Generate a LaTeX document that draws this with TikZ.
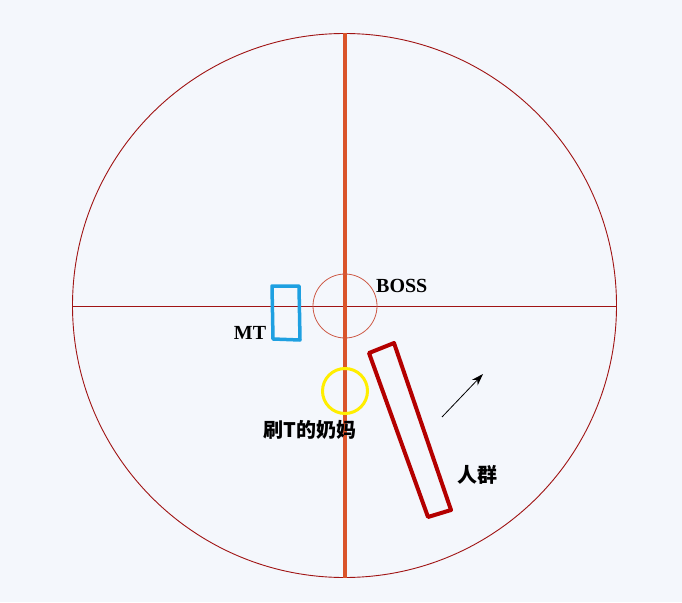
\documentclass[tikz,border=0pt]{standalone}
\usepackage{fontspec}
\setmainfont{Liberation Serif}
\newfontfamily\cjk{Noto Sans CJK SC}
\usepackage{tikz}
\usetikzlibrary{arrows.meta}
\definecolor{bgcol}{RGB}{244,247,252}
\definecolor{axisred}{RGB}{160,20,20}
\definecolor{poleorange}{RGB}{218,84,42}
\definecolor{bossring}{RGB}{205,90,70}
\definecolor{tankblue}{RGB}{30,160,225}
\definecolor{healyellow}{RGB}{255,238,0}
\definecolor{crowdred}{RGB}{180,0,0}
\tikzset{
  lbl/.style={font=\bfseries\fontsize{20}{20}\selectfont, inner sep=0pt},
  cjklbl/.style={font=\cjk\bfseries\fontsize{20}{20}\selectfont, inner sep=0pt}
}

\begin{document}
\begin{tikzpicture}[x=1pt,y=-1pt]
  % background
  \fill[bgcol] (0,0) rectangle (682,602);
  \useasboundingbox (0,0) rectangle (682,602);

  % room
  \draw[axisred, line width=0.9pt] (344.5,305.5) circle (272);
  \draw[axisred, line width=0.9pt] (73,306) -- (616,306);
  \draw[poleorange, line width=3.2pt] (345,33) -- (345,578);

  % boss
  \draw[bossring, line width=0.8pt] (345,306) circle (32);
  \node[lbl, anchor=west] (boss) at (376,286) {BOSS};

  % tank
  \draw[tankblue, line width=3.5pt, line join=round]
    (272,286) -- (299,286) -- (300,340) -- (273,339) -- cycle;
  \node[lbl] (mt) at (250,333) {MT};

  % healer
  \draw[healyellow, line width=3pt] (345,391) circle (22.5);
  \node[cjklbl] (heal) at (310,430) {刷T的奶妈};

  % crowd
  \draw[crowdred, line width=4pt, line join=round]
    (369,353) -- (394,343) -- (451,510) -- (428,517) -- cycle;
  \node[cjklbl] (crowd) at (477,475) {人群};
  \coordinate (mvfrom) at (442,417);
  \coordinate (mvto) at (483,374);
  \draw[-{Stealth[length=12pt,width=8pt]}, line width=0.8pt] (mvfrom) -- (mvto);
\end{tikzpicture}
\end{document}
